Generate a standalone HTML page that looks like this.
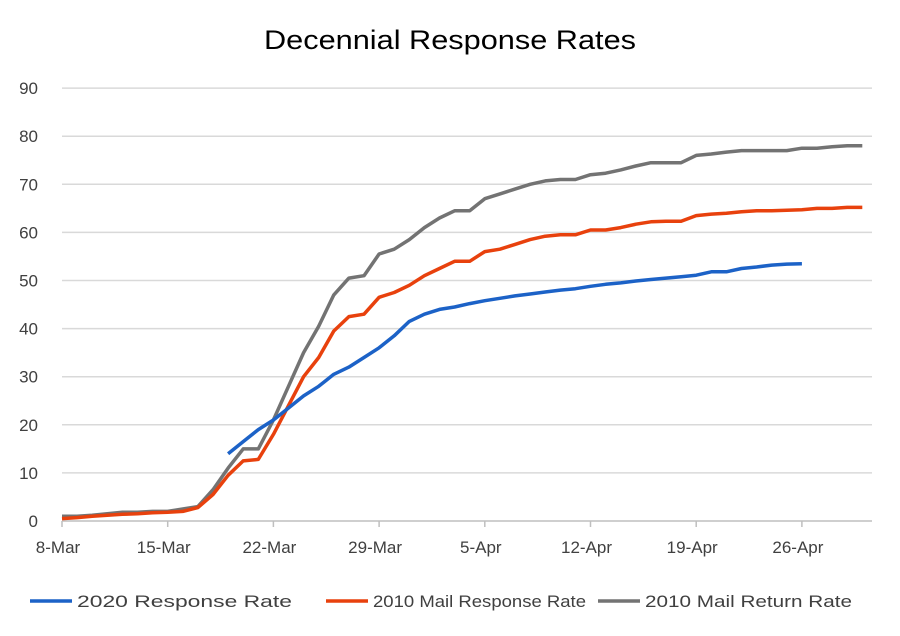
<!DOCTYPE html>
<html><head><meta charset="utf-8"><style>
body{margin:0;background:#fff;font-family:"Liberation Sans",sans-serif;}
svg{display:block}
</style></head><body>
<svg id="chart" width="900" height="636">
<rect x="0" y="0" width="900" height="636" fill="#fff"/>
<text x="264" y="49" textLength="372" lengthAdjust="spacingAndGlyphs" font-size="27" fill="#000">Decennial Response Rates</text>
<g id="grid"></g><g id="axes"></g><g id="series"></g><g id="legend"></g>
</svg>
<script>
const xLabels=["8-Mar","15-Mar","22-Mar","29-Mar","5-Apr","12-Apr","19-Apr","26-Apr"];
const yTicks=[0,10,20,30,40,50,60,70,80,90];
const blueStart=11;
const blue=[14,16.5,19,21,23.5,26,28,30.5,32,34,36,38.5,41.5,43,44,44.5,45.2,45.8,46.3,46.8,47.2,47.6,48,48.3,48.8,49.2,49.5,49.9,50.2,50.5,50.8,51.1,51.8,51.8,52.5,52.8,53.2,53.4,53.5];
const red=[0.5,0.7,1,1.2,1.4,1.5,1.7,1.8,2,2.8,5.5,9.5,12.5,12.8,18,24,30,34,39.5,42.5,43,46.5,47.5,49,51,52.5,54,54,56,56.5,57.5,58.5,59.2,59.5,59.5,60.5,60.5,61,61.7,62.2,62.3,62.3,63.5,63.8,64,64.3,64.5,64.5,64.6,64.7,65,65,65.2,65.2];
const gray=[1,1,1.2,1.5,1.8,1.8,2,2,2.5,3,6.5,11,15,15,21,28,35,40.5,47,50.5,51,55.5,56.5,58.5,61,63,64.5,64.5,67,68,69,70,70.7,71,71,72,72.3,73,73.8,74.5,74.5,74.5,76,76.3,76.7,77,77,77,77,77.5,77.5,77.8,78,78];
const seriesNames=["2020 Response Rate","2010 Mail Response Rate","2010 Mail Return Rate"];
const NS="http://www.w3.org/2000/svg";
const X0=62,PX=15.1,Y0=521,PY=4.81,XR=872;
const xs=d=>X0+d*PX, ys=v=>Y0-v*PY;
function mk(tag,attrs,parent){const e=document.createElementNS(NS,tag);for(const k in attrs)e.setAttribute(k,attrs[k]);parent.appendChild(e);return e;}
const grid=document.getElementById('grid'),axes=document.getElementById('axes'),ser=document.getElementById('series'),leg=document.getElementById('legend');
yTicks.forEach(v=>{
 const l=mk('line',{x1:X0,x2:XR,y1:ys(v),y2:ys(v),stroke:v===0?'#bfbfbf':'#d9d9d9','stroke-width':1.5},grid);
 
 
 const t=mk('text',{x:38,y:ys(v)+6,'text-anchor':'end','font-size':17,fill:'#404040'},axes);
 t.textContent=v;
 
 
});
xLabels.forEach((s,i)=>{
 const x=xs(i*7);
 const tk=mk('line',{x1:x,x2:x,y1:Y0,y2:Y0+6,stroke:'#bfbfbf','stroke-width':1.5},axes);
 
 
 const t=mk('text',{x:x-4,y:553,'text-anchor':'middle','font-size':17,fill:'#404040'},axes);
 t.textContent=s;
 
 
});
function line(arr,start,color,name){
 const pts=arr.map((v,i)=>xs(start+i).toFixed(1)+','+ys(v).toFixed(1)).join(' ');
 const p=mk('polyline',{points:pts,fill:'none',stroke:color,'stroke-width':3.5,'stroke-linejoin':'round'},ser);
 
 
}
line(gray,0,'#737373','series-2010-mail-return-rate');
line(red,0,'#e8410d','series-2010-mail-response-rate');
line(blue,blueStart,'#1c62c7','series-2020-response-rate');
const lx=[30,326,598],tw=[215,213,207],cols=['#1c62c7','#e8410d','#737373'];
seriesNames.forEach((n,i)=>{
 const g=mk('g',{},leg);
 
 
 mk('line',{x1:lx[i],x2:lx[i]+42,y1:601,y2:601,stroke:cols[i],'stroke-width':3.5},g);
 const t=mk('text',{x:lx[i]+47,y:607,'font-size':17,fill:'#404040',textLength:tw[i],lengthAdjust:'spacingAndGlyphs'},g);
 t.textContent=n;
});
</script>
</body></html>
